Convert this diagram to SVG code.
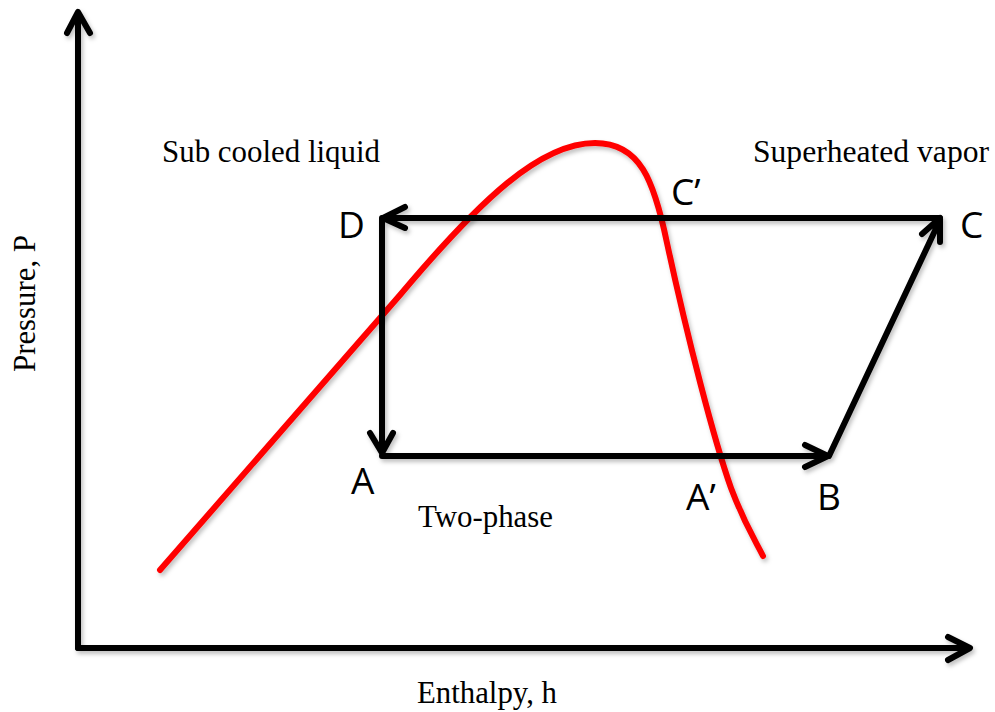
<svg xmlns="http://www.w3.org/2000/svg" width="995" height="712" viewBox="0 0 995 712">
<defs>
<style>
.ln{fill:none;stroke:#000;stroke-width:6;stroke-linecap:round;stroke-linejoin:round}
.red{fill:none;stroke:#ff0000;stroke-width:6;stroke-linecap:round;stroke-linejoin:round}
.lbl{font-family:"Liberation Serif","Times New Roman",serif;font-size:31px;fill:#000}
.pt{font-family:"Open Sans","Liberation Sans",Arial,sans-serif;font-size:37px;fill:#000}
</style>
<filter id="sh" x="-10%" y="-10%" width="120%" height="120%">
<feDropShadow dx="2" dy="3" stdDeviation="2" flood-color="#000" flood-opacity="0.25"/>
</filter>
</defs>
<rect width="995" height="712" fill="#fff"/>
<g id="axes" filter="url(#sh)">
<path class="ln" d="M78,648 L78,13 M67,33 L78,12 L90,33"/>
<path class="ln" d="M78,648 L969,648 M948,637 L970,648 L948,660"/>
</g>
<g id="saturation-curve" filter="url(#sh)">
<path class="red" d="M160,570 L400,295 C480,200 540,143 595,143 C640,143 654,180 667,243 C688,340 714,440 731,488 C745,525 755,540 763,556"/>
</g>
<g id="connectors" filter="url(#sh)">
<path class="ln" d="M940,218 L383,218 M405,207 L383,218 L405,228"/>
<path class="ln" d="M382,218 L382,453 M370,433 L382,453 L393,433"/>
<path class="ln" d="M382,456 L827,456 M805,445 L828,456 L805,467"/>
<path class="ln" d="M829,456 L940,220 M922,234 L940,218 L940,242"/>
</g>
<g id="labels">
<text class="lbl" x="162" y="162" textLength="218" lengthAdjust="spacingAndGlyphs">Sub cooled liquid</text>
<text class="lbl" x="753" y="162" textLength="236" lengthAdjust="spacingAndGlyphs">Superheated vapor</text>
<text class="lbl" x="418" y="527" textLength="135" lengthAdjust="spacingAndGlyphs">Two-phase</text>
<text class="lbl" x="417" y="703" textLength="140" lengthAdjust="spacingAndGlyphs">Enthalpy, h</text>
<text class="lbl" transform="translate(35,372) rotate(-90)" textLength="137" lengthAdjust="spacingAndGlyphs">Pressure, P</text>
</g>
<g id="point-D"><text class="pt" x="338" y="238">D</text></g>
<g id="point-C"><text class="pt" x="960" y="238">C</text></g>
<g id="point-A"><text class="pt" x="351" y="494">A</text></g>
<g id="point-B"><text class="pt" x="817" y="510">B</text></g>
<g id="point-Aprime"><text class="pt" x="686" y="510">A’</text></g>
<g id="point-Cprime"><text class="pt" x="671" y="205">C’</text></g>
</svg>
